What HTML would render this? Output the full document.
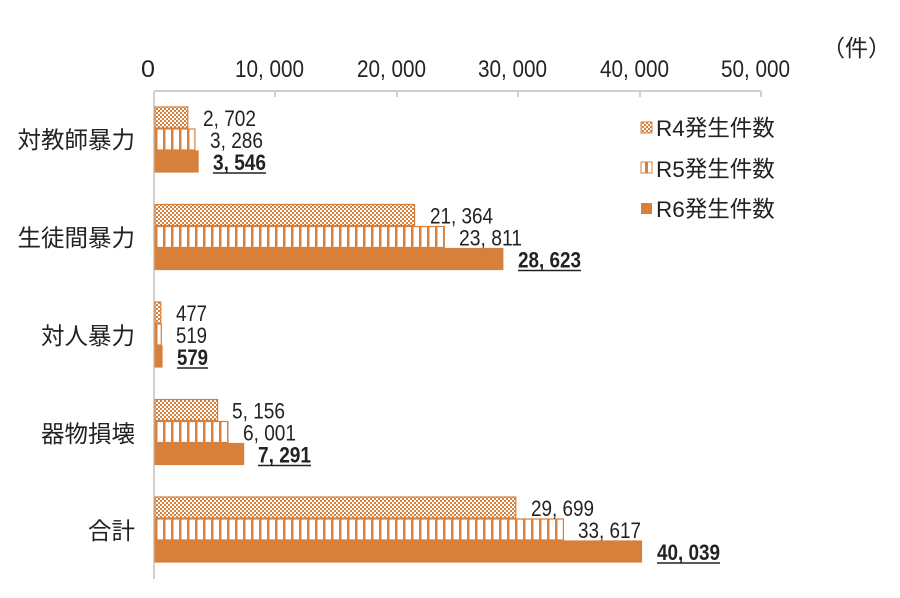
<!DOCTYPE html>
<html><head><meta charset="utf-8"><style>
html,body{margin:0;padding:0;background:#fff;}
text{font-family:"Liberation Sans","Noto Sans CJK JP",sans-serif;fill:#222;}
</style></head><body>
<svg width="900" height="593" viewBox="0 0 900 593" xmlns="http://www.w3.org/2000/svg">
<defs>
<pattern id="p4" width="4" height="4" patternUnits="userSpaceOnUse">
<rect width="4" height="4" fill="#fff"/>
<rect width="2" height="2" fill="#D7803C"/><rect x="2" y="2" width="2" height="2" fill="#D7803C"/>
</pattern>
<pattern id="p5" width="8" height="10" patternUnits="userSpaceOnUse" x="155">
<rect width="8" height="10" fill="#fff"/>
<rect x="0" width="2.5" height="10" fill="#D7803C"/>
</pattern>
</defs>
<g font-size="24">
<text x="141" y="77" textLength="14" lengthAdjust="spacingAndGlyphs">0</text>
<text x="235" y="77" textLength="69" lengthAdjust="spacingAndGlyphs">10, 000</text>
<text x="357" y="77" textLength="69" lengthAdjust="spacingAndGlyphs">20, 000</text>
<text x="478" y="77" textLength="69" lengthAdjust="spacingAndGlyphs">30, 000</text>
<text x="600" y="77" textLength="69" lengthAdjust="spacingAndGlyphs">40, 000</text>
<text x="721" y="77" textLength="69" lengthAdjust="spacingAndGlyphs">50, 000</text>
</g>
<text x="822" y="56" font-size="23">（件）</text>
<line x1="154" y1="91" x2="761" y2="91" stroke="#d0d0d0" stroke-width="2"/>
<g stroke="#d0d0d0" stroke-width="2">
<line x1="275" y1="91" x2="275" y2="97"/><line x1="397" y1="91" x2="397" y2="97"/>
<line x1="518" y1="91" x2="518" y2="97"/><line x1="640" y1="91" x2="640" y2="97"/>
<line x1="761" y1="91" x2="761" y2="97"/>
</g>
<line x1="154" y1="91" x2="154" y2="579" stroke="#d0d0d0" stroke-width="2"/>
<g stroke="#D7803C" stroke-width="1.2">
<rect x="155" y="107" width="32.8" height="21" fill="url(#p4)"/>
<rect x="155" y="129" width="39.9" height="21" fill="url(#p5)"/>
<rect x="155" y="151" width="43.1" height="21" fill="#D7803C"/>
<rect x="155" y="204.5" width="259.6" height="21" fill="url(#p4)"/>
<rect x="155" y="226.5" width="289.3" height="21" fill="url(#p5)"/>
<rect x="155" y="248.5" width="347.8" height="21" fill="#D7803C"/>
<rect x="155" y="302" width="5.8" height="21" fill="url(#p4)"/>
<rect x="155" y="324" width="6.3" height="21" fill="url(#p5)"/>
<rect x="155" y="346" width="7" height="21" fill="#D7803C"/>
<rect x="155" y="399.5" width="62.6" height="21" fill="url(#p4)"/>
<rect x="155" y="421.5" width="72.9" height="21" fill="url(#p5)"/>
<rect x="155" y="443.5" width="88.6" height="21" fill="#D7803C"/>
<rect x="155" y="497" width="360.8" height="21" fill="url(#p4)"/>
<rect x="155" y="519" width="408.4" height="21" fill="url(#p5)"/>
<rect x="155" y="541" width="486.5" height="21" fill="#D7803C"/>
</g>
<g font-size="22">
<text x="203" y="126" textLength="53" lengthAdjust="spacingAndGlyphs">2, 702</text>
<text x="210" y="148" textLength="53" lengthAdjust="spacingAndGlyphs">3, 286</text>
<text x="213" y="170" textLength="53" lengthAdjust="spacingAndGlyphs" font-weight="bold">3, 546</text>
<text x="430" y="223.5" textLength="63" lengthAdjust="spacingAndGlyphs">21, 364</text>
<text x="459" y="245.5" textLength="63" lengthAdjust="spacingAndGlyphs">23, 811</text>
<text x="518" y="267.5" textLength="63" lengthAdjust="spacingAndGlyphs" font-weight="bold">28, 623</text>
<text x="176" y="321" textLength="31" lengthAdjust="spacingAndGlyphs">477</text>
<text x="176" y="343" textLength="31" lengthAdjust="spacingAndGlyphs">519</text>
<text x="177" y="365" textLength="31" lengthAdjust="spacingAndGlyphs" font-weight="bold">579</text>
<text x="232" y="418.5" textLength="53" lengthAdjust="spacingAndGlyphs">5, 156</text>
<text x="243" y="440.5" textLength="53" lengthAdjust="spacingAndGlyphs">6, 001</text>
<text x="258" y="462.5" textLength="53" lengthAdjust="spacingAndGlyphs" font-weight="bold">7, 291</text>
<text x="531" y="516" textLength="63" lengthAdjust="spacingAndGlyphs">29, 699</text>
<text x="578" y="538" textLength="63" lengthAdjust="spacingAndGlyphs">33, 617</text>
<text x="657" y="560" textLength="63" lengthAdjust="spacingAndGlyphs" font-weight="bold">40, 039</text>
</g>
<g stroke="#222" stroke-width="1.5">
<line x1="213" y1="173" x2="266" y2="173"/>
<line x1="518" y1="270.5" x2="581" y2="270.5"/>
<line x1="177" y1="368" x2="208" y2="368"/>
<line x1="258" y1="465.5" x2="311" y2="465.5"/>
<line x1="657" y1="563" x2="720" y2="563"/>
</g>
<g font-size="23.5" text-anchor="end">
<text x="135" y="148">対教師暴力</text>
<text x="135" y="246">生徒間暴力</text>
<text x="135" y="344">対人暴力</text>
<text x="135" y="442">器物損壊</text>
<text x="135" y="539">合計</text>
</g>
<rect x="641" y="122" width="11" height="11" fill="url(#p4)" stroke="#D7803C"/>
<rect x="641" y="162" width="11" height="11" fill="#fff" stroke="#D7803C"/>
<rect x="645" y="162" width="3" height="11" fill="#D7803C"/>
<rect x="641" y="203" width="11" height="11" fill="#D7803C"/>
<g font-size="22.5">
<text x="656" y="136">R4発生件数</text>
<text x="656" y="177">R5発生件数</text>
<text x="656" y="217">R6発生件数</text>
</g>
</svg>
</body></html>
